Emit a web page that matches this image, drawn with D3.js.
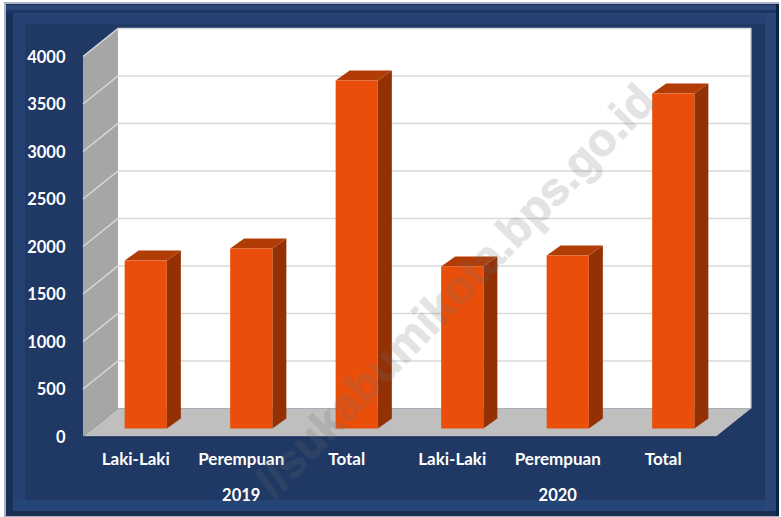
<!DOCTYPE html>
<html><head><meta charset="utf-8">
<script src="https://cdnjs.cloudflare.com/ajax/libs/d3/7.8.5/d3.min.js"></script>
<style>html,body{margin:0;padding:0;background:#fff}svg{display:block}text{font-family:Lato,"Open Sans",sans-serif;font-weight:700;fill:#fff}</style>
</head><body><svg id="c" width="781" height="517"></svg>
<script>
const categories = ["Laki-Laki","Perempuan","Total","Laki-Laki","Perempuan","Total"];
const groupKeys = ["a","b","c","d","e","f"];
const values = [1768,1895,3663,1705,1821,3526];
const years = ["2019","2020"];
const yTicks = [0,500,1000,1500,2000,2500,3000,3500,4000];
const watermark = "//sukabumikota.bps.go.id";

const svg = d3.select("#c");
const W = 781, H = 517;
const navy = "#1f3864";
// frame
const frame = [
  [0,0,781,517,"#fff"],
  [4,2,775,515,"#aab4c6"],
  [6,4,772,512,"#1a2f58"],
  [6,5,770,6,"#2b4777"],
  [6,10,770,4,"#1c3562"],
  [13,13,752,488,"#264272"],
  [25,24,740,476,navy],
  [13,500,752,11,"#264577"],
  [6,511,772,5,"#1d2f50"],
  [765,13,11,498,"#2a4678"],
  [776,4,3,512,"#0e1f40"]
];
svg.selectAll("rect.fr").data(frame).join("rect").attr("class","fr")
  .attr("x",d=>d[0]).attr("y",d=>d[1]).attr("width",d=>d[2]).attr("height",d=>d[3]).attr("fill",d=>d[4]);

// 3D geometry
const frontX0 = 83, frontX1 = 716, depthX = 35, depthY = 28, floorY = 436.5, plotH = 380;
const barDepthX = 14, barDepthY = 10, barInsetX = 10, barInsetY = 8;
const y = d3.scaleLinear().domain([0,4000]).range([floorY, floorY-plotH]);
const x = d3.scaleBand().domain(groupKeys).range([frontX0, frontX1]).paddingInner(0.6).paddingOuter(0.3);
const line = d3.line();

const g = svg.append("g");
// back wall
g.append("rect").attr("x",frontX0+depthX).attr("y",y(4000)-depthY).attr("width",frontX1-frontX0).attr("height",plotH).attr("fill","#fff");
// side wall and floor
g.append("path").attr("d",line([[frontX0,y(4000)],[frontX0+depthX,y(4000)-depthY],[frontX0+depthX,y(0)-depthY],[frontX0,y(0)]])).attr("fill","#a6a6a6");
g.append("path").attr("d",line([[frontX0,y(0)],[frontX0+depthX,y(0)-depthY],[frontX1+depthX,y(0)-depthY],[frontX1,y(0)]])).attr("fill","#bfbfbf");
// frame hairlines of the wall
g.append("path").attr("d",line([[frontX0+depthX,y(4000)-depthY],[frontX1+depthX,y(4000)-depthY],[frontX1+depthX,y(0)-depthY]])).attr("fill","none").attr("stroke","#c4c6cc").attr("stroke-width",1.2);
// gridlines
g.selectAll("path.grid").data(yTicks.filter(d=>d>0)).join("path").attr("class","grid")
  .attr("d",d=>line([[frontX0,y(d)],[frontX0+depthX,y(d)-depthY],[frontX1+depthX,y(d)-depthY]]))
  .attr("fill","none").attr("stroke","#d9d9d9").attr("stroke-width",1.5);
g.append("line").attr("x1",frontX0).attr("y1",floorY+.5).attr("x2",frontX1).attr("y2",floorY+.5).attr("stroke","#15294e").attr("stroke-width",1);

// bars
const bars = g.selectAll("g.bar").data(values.map((v,i)=>({v,k:groupKeys[i]}))).join("g").attr("class","bar");
bars.each(function(d){
  const s = d3.select(this), x0 = x(d.k)+barInsetX, w = x.bandwidth();
  const b = y(0)-barInsetY, t = y(d.v)-barInsetY;
  s.append("path").attr("d",line([[x0+w,t],[x0+w+barDepthX,t-barDepthY],[x0+w+barDepthX,b-barDepthY],[x0+w,b]])).attr("fill","#933105");
  s.append("path").attr("d",line([[x0,t],[x0+barDepthX,t-barDepthY],[x0+w+barDepthX,t-barDepthY],[x0+w,t]])).attr("fill","#b13c05");
  s.append("rect").attr("x",x0).attr("y",t).attr("width",w).attr("height",b-t).attr("fill","#e94f0b");
});

// y labels
svg.selectAll("text.yl").data(yTicks).join("text").attr("class","yl")
  .attr("x",65.5).attr("y",d=>y(d)+6).attr("text-anchor","end").attr("font-size",16.5).text(d=>d);
// x labels
svg.selectAll("text.xl").data(categories.map((c,i)=>({c,k:groupKeys[i]}))).join("text").attr("class","xl")
  .attr("x",d=>x(d.k)+x.bandwidth()/2).attr("y",465).attr("text-anchor","middle").attr("font-size",17).text(d=>d.c);
// year labels
const yearKeys = [groupKeys[1],groupKeys[4]];
svg.selectAll("text.yr").data(years).join("text").attr("class","yr")
  .attr("x",(d,i)=>x(yearKeys[i])+x.bandwidth()/2)
  .attr("y",501).attr("text-anchor","middle").attr("font-size",16.5).text(d=>d);

// watermark
svg.append("text").attr("transform","translate(658,103) rotate(-46)").attr("text-anchor","end")
  .style("font-family","'Liberation Sans',sans-serif").style("fill","#6e6e6e").style("stroke","#6e6e6e").style("stroke-width",1)
  .attr("opacity",0.19).attr("font-size",46).text(watermark);
</script></body></html>
